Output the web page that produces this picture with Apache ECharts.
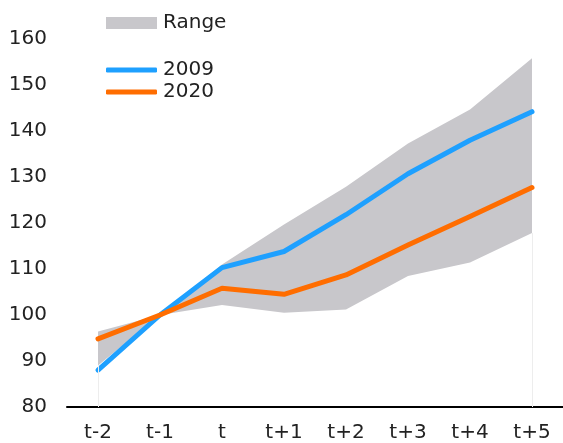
<!DOCTYPE html>
<html>
<head>
<meta charset="utf-8">
<script src="https://cdn.jsdelivr.net/npm/echarts@6/dist/echarts.min.js"></script>
<style>
  html, body { margin: 0; padding: 0; background: #fff; }
  #chart { width: 563px; height: 443px; }
</style>
</head>
<body>
<div id="chart"></div>
<script>
const periods = ['t-2', 't-1', 't', 't+1', 't+2', 't+3', 't+4', 't+5']
const rangeLow = [89, 100, 102.2, 100.5, 101.2, 108.5, 111.4, 117.8]
const rangeHigh = [96.4, 100, 111, 119.7, 127.9, 137.3, 144.7, 155.8]
const series2009 = [88, 100, 110.3, 113.8, 121.8, 130.7, 138, 144.2]
const series2020 = [94.8, 100, 105.8, 104.5, 108.7, 115.2, 121.4, 127.7]

const chart = echarts.init(document.getElementById('chart'))
const font = 'DejaVu Sans'

// the band is stacked: transparent base + gray difference
const rangeSpan = rangeHigh.map((v, i) => +(v - rangeLow[i]).toFixed(2))
const lastIdx = periods.length - 1

const option = {
  animation: false,
  textStyle: { fontFamily: font },
  legend: [
    {
      data: [{ name: 'Range', icon: 'rect' }],
      left: 106,
      top: 13,
      padding: 0,
      itemWidth: 51,
      itemHeight: 12,
      itemGap: 0,
      textStyle: { fontFamily: font, fontSize: 20, color: '#222', padding: [0, 0, 0, 1] }
    },
    {
      data: [
        { name: '2009', icon: 'roundRect' },
        { name: '2020', icon: 'roundRect' }
      ],
      orient: 'vertical',
      left: 106,
      top: 60,
      padding: 0,
      itemWidth: 51,
      itemHeight: 5,
      itemGap: 2,
      textStyle: { fontFamily: font, fontSize: 20, color: '#222', padding: [0, 0, 0, 1] }
    }
  ],
  grid: { left: 67, top: 39, width: 498, bottom: 36 },
  xAxis: {
    type: 'category',
    data: periods,
    boundaryGap: true,
    axisLine: { lineStyle: { color: '#000', width: 2 } },
    axisTick: { show: false },
    axisLabel: { fontFamily: font, fontSize: 20, color: '#222', margin: 16 }
  },
  yAxis: {
    type: 'value',
    min: 80,
    max: 160,
    interval: 10,
    axisLine: { show: false },
    axisTick: { show: false },
    splitLine: { show: false },
    axisLabel: { fontFamily: font, fontSize: 20, color: '#222', margin: 20 }
  },
  series: [
    {
      name: 'base',
      type: 'line',
      stack: 'band',
      data: rangeLow,
      symbol: 'none',
      lineStyle: { opacity: 0 },
      areaStyle: { opacity: 0 },
      silent: true,
      // faint edge lines below the band at both ends
      markLine: {
        silent: true,
        symbol: 'none',
        label: { show: false },
        lineStyle: { color: '#ededed', width: 1, type: 'solid' },
        data: [
          [{ coord: [periods[0], 80] }, { coord: [periods[0], rangeLow[0]] }],
          [{ coord: [periods[lastIdx], 80] }, { coord: [periods[lastIdx], rangeLow[lastIdx]] }]
        ]
      }
    },
    {
      name: 'Range',
      type: 'line',
      stack: 'band',
      data: rangeSpan,
      symbol: 'none',
      itemStyle: { color: '#c8c7cb' },
      lineStyle: { opacity: 0 },
      areaStyle: { color: '#c8c7cb', opacity: 1 }
    },
    {
      name: '2009',
      type: 'line',
      data: series2009,
      symbol: 'none',
      itemStyle: { color: '#1ea0ff' },
      lineStyle: { color: '#1ea0ff', width: 5, cap: 'round', join: 'round' }
    },
    {
      name: '2020',
      type: 'line',
      data: series2020,
      symbol: 'none',
      itemStyle: { color: '#ff6d00' },
      lineStyle: { color: '#ff6d00', width: 5, cap: 'round', join: 'round' }
    }
  ]
}

chart.setOption(option)
window.addEventListener('resize', () => chart.resize())
</script>
</body>
</html>
